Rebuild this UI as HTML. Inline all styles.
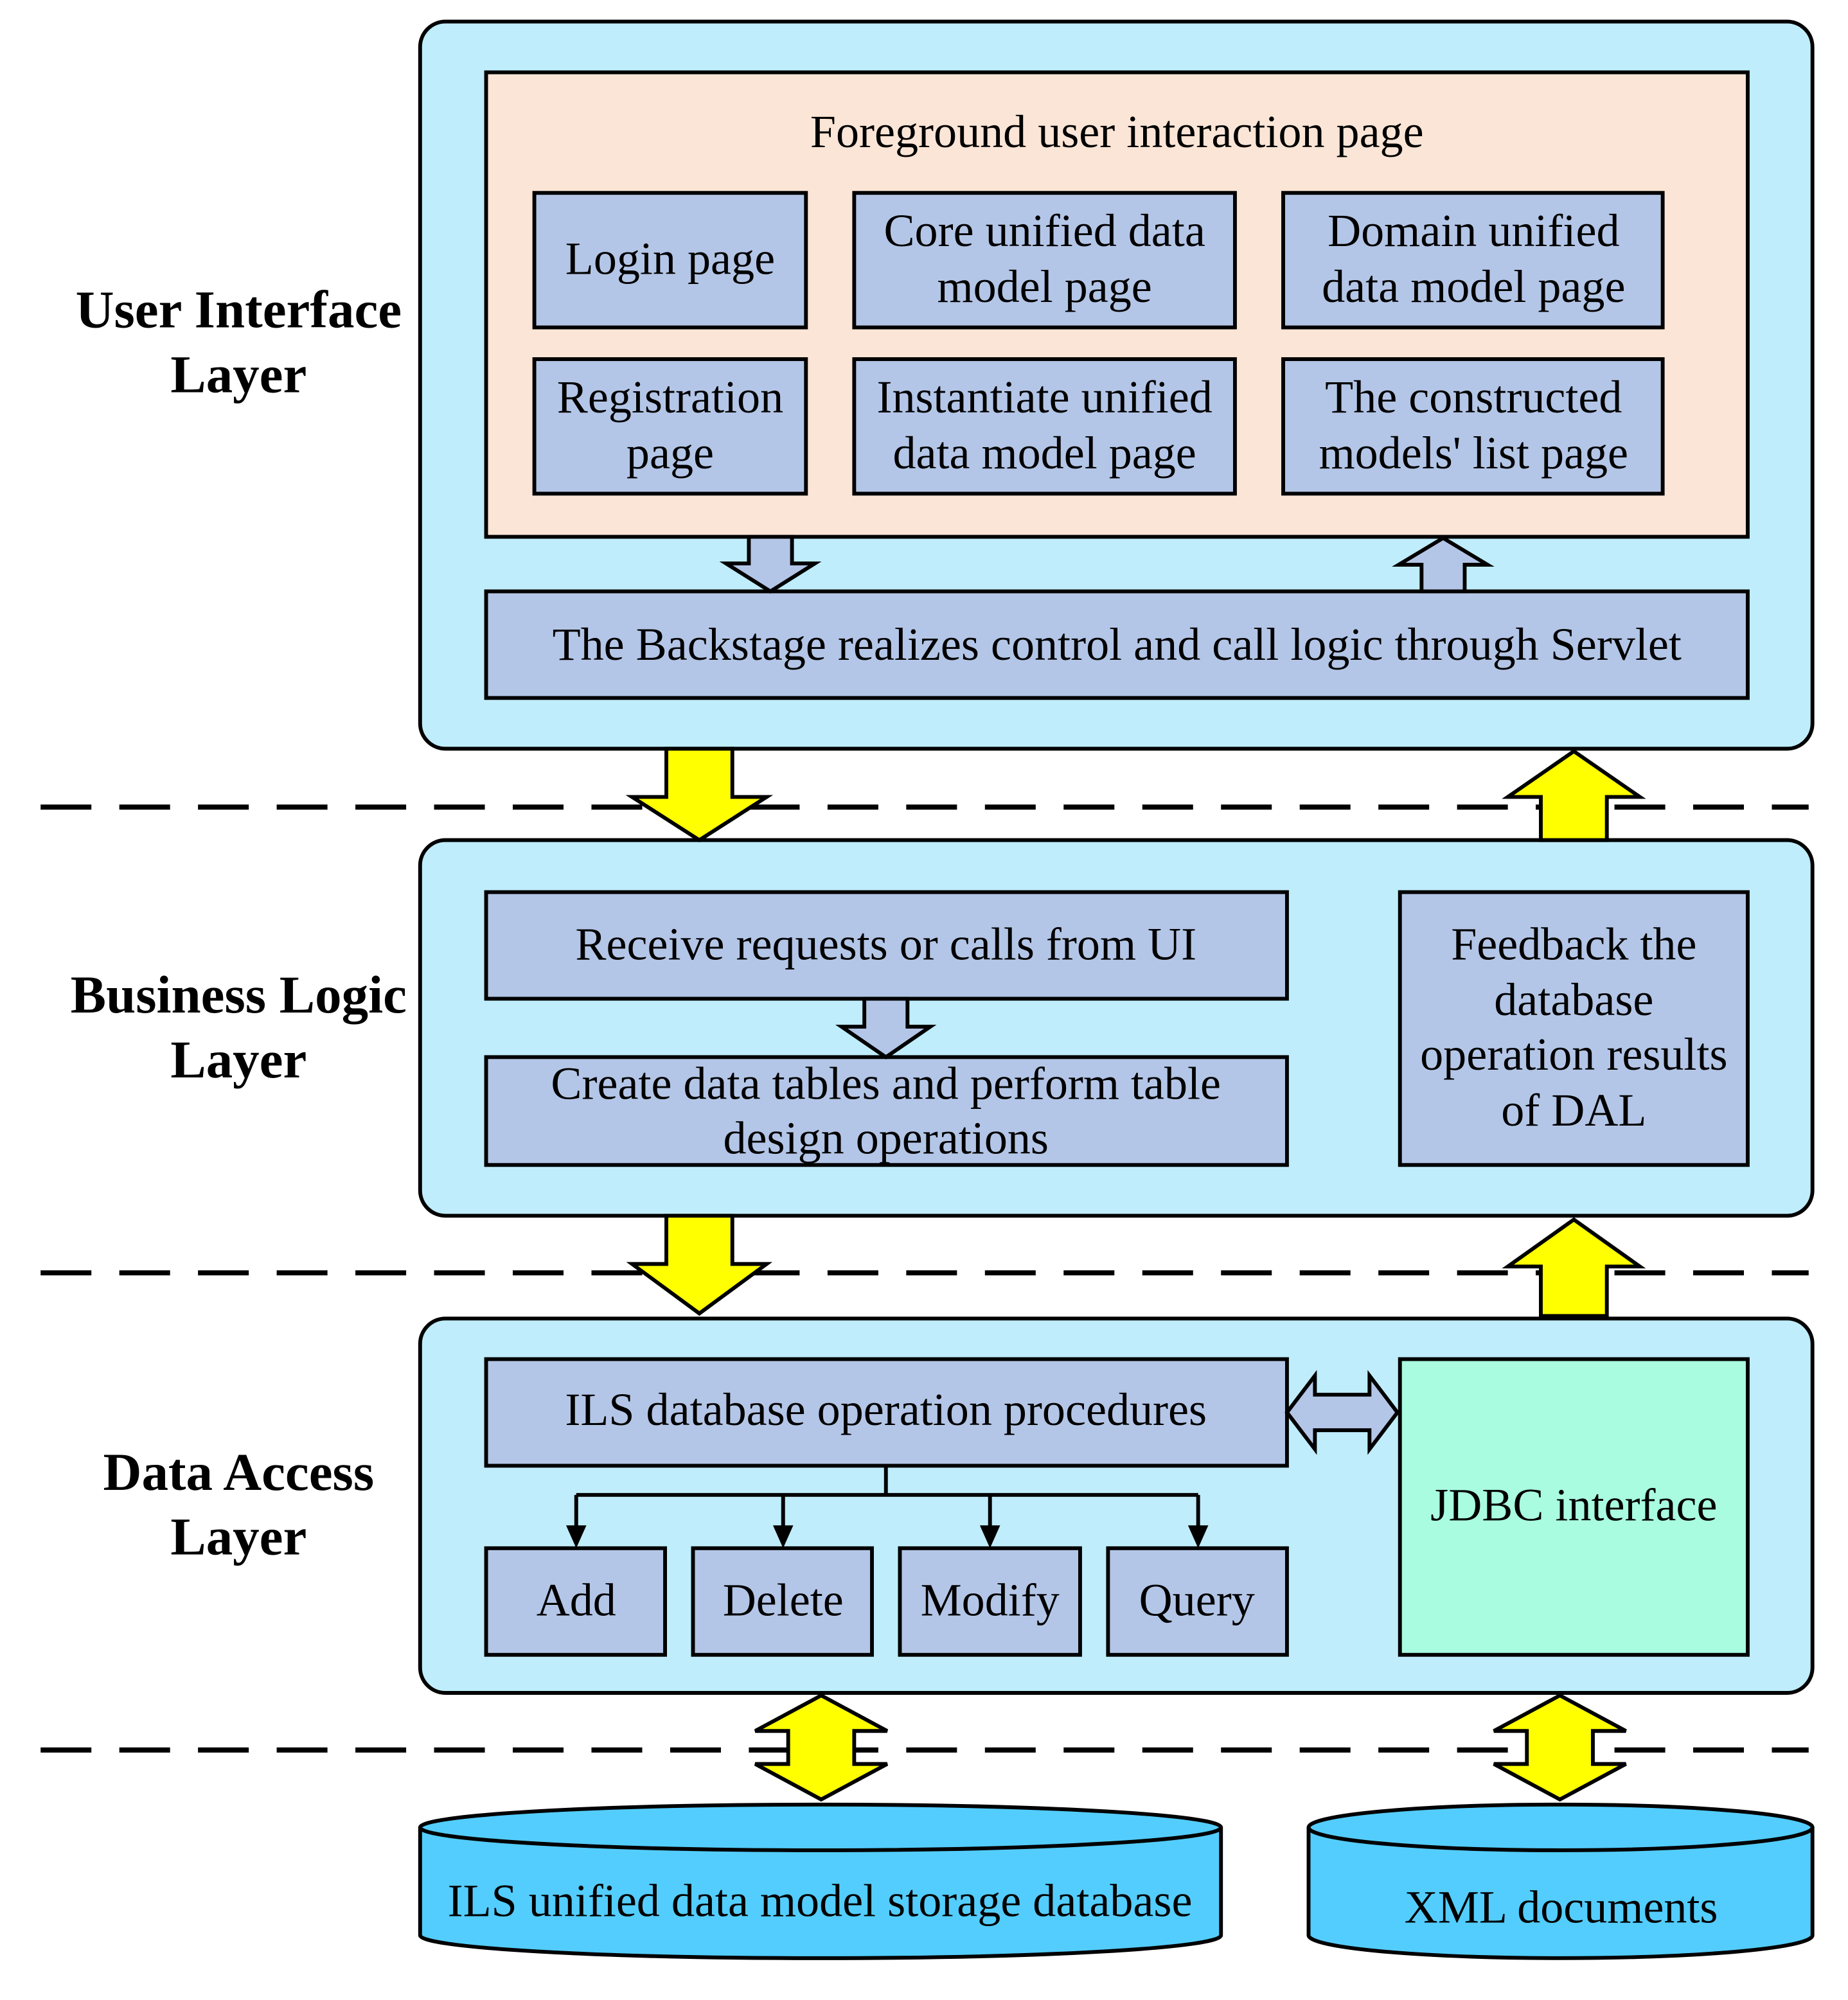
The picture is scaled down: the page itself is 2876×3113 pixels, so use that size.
<!DOCTYPE html>
<html><head><meta charset="utf-8"><style>
html,body{margin:0;padding:0;background:#fff;}
svg{display:block;}
text{font-family:"Liberation Serif",serif;fill:#000;}
</style></head><body>
<svg width="2876" height="3113" viewBox="0 0 1456 1576" preserveAspectRatio="none" xmlns="http://www.w3.org/2000/svg">
<g stroke="#000" stroke-width="4" stroke-dasharray="40,22" fill="none">
<line x1="32" y1="636" x2="1425" y2="636"/>
<line x1="32" y1="1003" x2="1425" y2="1003"/>
<line x1="32" y1="1379" x2="1425" y2="1379"/>
</g>
<g stroke="#000" stroke-width="3">
<rect x="331" y="17" width="1097" height="573" rx="20" fill="#bfedfc"/>
<rect x="331" y="662" width="1097" height="296" rx="20" fill="#bfedfc"/>
<rect x="331" y="1039" width="1097" height="295" rx="20" fill="#bfedfc"/>
<rect x="383" y="57" width="994" height="366" fill="#fbe5d6"/>
<g fill="#b4c6e7">
<rect x="421" y="152" width="214" height="106"/>
<rect x="673" y="152" width="300" height="106"/>
<rect x="1011" y="152" width="299" height="106"/>
<rect x="421" y="283" width="214" height="106"/>
<rect x="673" y="283" width="300" height="106"/>
<rect x="1011" y="283" width="299" height="106"/>
<rect x="383" y="466" width="994" height="84"/>
<rect x="383" y="703" width="631" height="84"/>
<rect x="383" y="833" width="631" height="85"/>
<rect x="1103" y="703" width="274" height="215"/>
<rect x="383" y="1071" width="631" height="84"/>
<rect x="383" y="1220" width="141" height="84"/>
<rect x="546" y="1220" width="141" height="84"/>
<rect x="709" y="1220" width="142" height="84"/>
<rect x="873" y="1220" width="141" height="84"/>
<polygon points="590,423 624,423 624,444 642,444 607,466 572,444 590,444"/>
<polygon points="1120,466 1154,466 1154,445 1172,445 1137,424 1102,445 1120,445"/>
<polygon points="681,787 715,787 715,809 733,809 698,833 663,809 681,809"/>
<polygon points="1014,1113 1036,1084 1036,1099 1079,1099 1079,1084 1101,1113 1079,1142 1079,1127 1036,1127 1036,1142"/>
</g>
<rect x="1103" y="1071" width="274" height="233" fill="#a9fce0"/>
<g fill="#ffff00">
<polygon points="525,590 577,590 577,628 604,628 551,662 498,628 525,628"/>
<polygon points="525,958 577,958 577,996 604,996 551,1035 498,996 525,996"/>
<polygon points="1214,662 1266,662 1266,628 1292,628 1240,592 1188,628 1214,628"/>
<polygon points="1214,1037 1266,1037 1266,998 1292,998 1240,961 1188,998 1214,998"/>
<polygon points="647,1336 699,1364 673,1364 673,1390 699,1390 647,1418 595,1390 621,1390 621,1364 595,1364"/>
<polygon points="1229,1336 1281,1364 1255,1364 1255,1390 1281,1390 1229,1418 1177,1390 1203,1390 1203,1364 1177,1364"/>
</g>
<g fill="#53cdfd">
<path d="M331,1440 L331,1525 A315,18 0 0 0 962,1525 L962,1440"/>
<ellipse cx="646.5" cy="1440" rx="315.5" ry="18"/>
<path d="M1031,1440 L1031,1525 A198.5,18 0 0 0 1428,1525 L1428,1440"/>
<ellipse cx="1229.5" cy="1440" rx="198.5" ry="18"/>
</g>
</g>
<g stroke="#000" stroke-width="3" fill="none">
<line x1="698" y1="1155" x2="698" y2="1178"/>
<line x1="454" y1="1178" x2="944" y2="1178"/>
<line x1="454" y1="1178" x2="454" y2="1204"/>
<line x1="617" y1="1178" x2="617" y2="1204"/>
<line x1="780" y1="1178" x2="780" y2="1204"/>
<line x1="944" y1="1178" x2="944" y2="1204"/>
</g>
<g fill="#000">
<polygon points="446,1202 462,1202 454,1220"/>
<polygon points="609,1202 625,1202 617,1220"/>
<polygon points="772,1202 788,1202 780,1220"/>
<polygon points="936,1202 952,1202 944,1220"/>
</g>
<g font-size="36.5" text-anchor="middle">
<text x="880" y="116">Foreground user interaction page</text>
<text x="528" y="216">Login page</text>
<text x="823" y="194">Core unified data</text>
<text x="823" y="238">model page</text>
<text x="1161" y="194">Domain unified</text>
<text x="1161" y="238">data model page</text>
<text x="528" y="325">Registration</text>
<text x="528" y="369">page</text>
<text x="823" y="325">Instantiate unified</text>
<text x="823" y="369">data model page</text>
<text x="1161" y="325">The constructed</text>
<text x="1161" y="369">models' list page</text>
<text x="880" y="520">The Backstage realizes control and call  logic through Servlet</text>
<text x="698" y="756">Receive requests or calls from UI</text>
<text x="698" y="866">Create data tables and perform table</text>
<text x="698" y="909">design operations</text>
<text x="1240" y="756">Feedback the</text>
<text x="1240" y="800">database</text>
<text x="1240" y="843">operation results</text>
<text x="1240" y="887">of DAL</text>
<text x="698" y="1123">ILS database operation procedures</text>
<text x="1240" y="1198">JDBC interface</text>
<text x="454" y="1273">Add</text>
<text x="617" y="1273">Delete</text>
<text x="780" y="1273">Modify</text>
<text x="943" y="1273">Query</text>
<text x="646" y="1510">ILS unified data model storage database</text>
<text x="1230" y="1515">XML documents</text>
</g>
<g font-size="42" font-weight="bold" text-anchor="middle">
<text x="188" y="258">User Interface</text>
<text x="188" y="309">Layer</text>
<text x="188" y="798">Business Logic</text>
<text x="188" y="849">Layer</text>
<text x="188" y="1174">Data Access</text>
<text x="188" y="1225">Layer</text>
</g>
</svg>
</body></html>
